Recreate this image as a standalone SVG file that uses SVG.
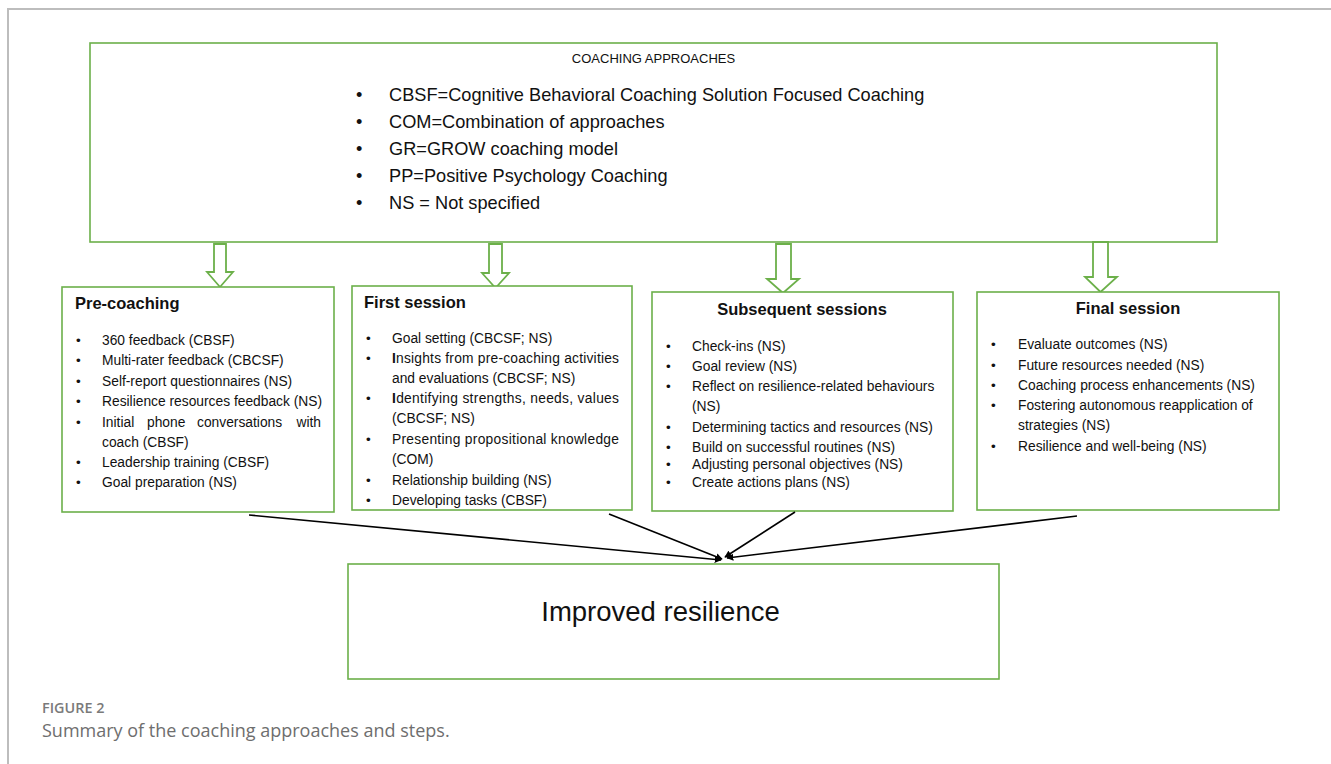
<svg xmlns="http://www.w3.org/2000/svg" width="1331" height="764" viewBox="0 0 1331 764">
  <style>
    .box { fill: #ffffff; stroke: #6cb04a; stroke-width: 1.6; }
    .blk { fill: #ffffff; stroke: #6cb04a; stroke-width: 1.8; stroke-linejoin: miter; }
    .frame { fill: none; stroke: #bdbdbd; stroke-width: 2; }
    .t { font-family: "Liberation Sans", Arial, sans-serif; fill: #111111; }
    .item { font-size: 13.8px; }
    .head { font-size: 16.5px; font-weight: bold; }
    .legend { font-size: 18.2px; }
    .bul { font-family: "Liberation Sans", Arial, sans-serif; font-size: 13.5px; fill: #111111; }
    .conn { stroke: #000000; stroke-width: 1.6; fill: none; marker-end: url(#tip); }
    .cap { font-family: "Open Sans", "Liberation Sans", sans-serif; }
  </style>
  <defs>
    <marker id="tip" viewBox="0 0 10 10" refX="9" refY="5" markerWidth="7" markerHeight="7" orient="auto" markerUnits="userSpaceOnUse">
      <path d="M0,0 L10,5 L0,10 z" fill="#000000"/>
    </marker>
    <clipPath id="clipFirst"><rect x="352" y="286" width="280" height="223"/></clipPath>
  </defs>

  <rect width="1331" height="764" fill="#ffffff"/>
  <!-- page frame -->
  <path class="frame" d="M8,764 L8,9 L1331,9"/>

  <!-- approaches legend -->
  <g id="approaches">
    <rect class="box" x="90" y="43" width="1127" height="199"/>
    <text class="t" x="653.5" y="63" font-size="13" text-anchor="middle">COACHING APPROACHES</text>
    <g class="t legend">
      <text x="356" y="101">•</text><text x="389" y="101">CBSF=Cognitive Behavioral Coaching Solution Focused Coaching</text>
      <text x="356" y="128">•</text><text x="389" y="128">COM=Combination of approaches</text>
      <text x="356" y="155">•</text><text x="389" y="155">GR=GROW coaching model</text>
      <text x="356" y="182">•</text><text x="389" y="182">PP=Positive Psychology Coaching</text>
      <text x="356" y="209">•</text><text x="389" y="209">NS = Not specified</text>
    </g>
  </g>

  <!-- hollow block arrows from legend to each stage -->
  <g id="block-arrows">
    <path class="blk" d="M214,244 L226,244 L226,272 L233,272 L220,287 L207,272 L214,272 Z"/>
    <path class="blk" d="M489,244 L502,244 L502,273 L509,273 L495.5,288 L482,273 L489,273 Z"/>
    <path class="blk" d="M776,244 L791,244 L791,279 L799,279 L783,293 L767,279 L776,279 Z"/>
    <path class="blk" d="M1093,242 L1108,242 L1108,277 L1117,277 L1100.5,292 L1085,277 L1093,277 Z"/>
  </g>

  <g id="pre-coaching">
    <rect class="box" x="62" y="287" width="272" height="225"/>
    <text class="t head" x="75" y="309">Pre-coaching</text>
    <g class="t item">
      <text class="bul" x="76" y="345">•</text><text x="102" y="345">360 feedback (CBSF)</text>
      <text class="bul" x="76" y="365">•</text><text x="102" y="365">Multi-rater feedback (CBCSF)</text>
      <text class="bul" x="76" y="386">•</text><text x="102" y="386">Self-report questionnaires (NS)</text>
      <text class="bul" x="76" y="406">•</text><text x="102" y="406">Resilience resources feedback (NS)</text>
      <text class="bul" x="76" y="427">•</text><text x="102" y="427">Initial</text><text x="147" y="427">phone</text><text x="197" y="427">conversations</text><text x="321" y="427" text-anchor="end">with</text>
      <text x="102" y="447">coach (CBSF)</text>
      <text class="bul" x="76" y="467">•</text><text x="102" y="467">Leadership training (CBSF)</text>
      <text class="bul" x="76" y="487">•</text><text x="102" y="487">Goal preparation (NS)</text>
    </g>
  </g>

  <g id="first-session">
    <rect class="box" x="352" y="286" width="280" height="224"/>
    <text class="t head" x="364" y="308">First session</text>
    <g class="t item" clip-path="url(#clipFirst)">
      <text class="bul" x="366" y="343">•</text><text x="392" y="343">Goal setting (CBCSF; NS)</text>
      <text class="bul" x="366" y="363">•</text><text x="392" y="363" textLength="227" lengthAdjust="spacing"><tspan font-weight="bold">I</tspan>nsights from pre-coaching activities</text>
      <text x="392" y="383">and evaluations (CBCSF; NS)</text>
      <text class="bul" x="366" y="403">•</text><text x="392" y="403" textLength="227" lengthAdjust="spacing"><tspan font-weight="bold">I</tspan>dentifying strengths, needs, values</text>
      <text x="392" y="423">(CBCSF; NS)</text>
      <text class="bul" x="366" y="444">•</text><text x="392" y="444" textLength="227" lengthAdjust="spacing">Presenting propositional knowledge</text>
      <text x="392" y="464">(COM)</text>
      <text class="bul" x="366" y="485">•</text><text x="392" y="485">Relationship building (NS)</text>
      <text class="bul" x="366" y="505">•</text><text x="392" y="505">Developing tasks (CBSF)</text>
    </g>
  </g>

  <g id="subsequent-sessions">
    <rect class="box" x="652" y="292" width="301" height="219"/>
    <text class="t head" x="802" y="315" text-anchor="middle">Subsequent sessions</text>
    <g class="t item">
      <text class="bul" x="666" y="351">•</text><text x="692" y="351">Check-ins (NS)</text>
      <text class="bul" x="666" y="371">•</text><text x="692" y="371">Goal review (NS)</text>
      <text class="bul" x="666" y="391">•</text><text x="692" y="391">Reflect on resilience-related behaviours</text>
      <text x="692" y="411">(NS)</text>
      <text class="bul" x="666" y="432">•</text><text x="692" y="432">Determining tactics and resources (NS)</text>
      <text class="bul" x="666" y="452">•</text><text x="692" y="452">Build on successful routines (NS)</text>
      <text class="bul" x="666" y="469">•</text><text x="692" y="469">Adjusting personal objectives (NS)</text>
      <text class="bul" x="666" y="487">•</text><text x="692" y="487">Create actions plans (NS)</text>
    </g>
  </g>

  <g id="final-session">
    <rect class="box" x="977" y="292" width="302" height="218"/>
    <text class="t head" x="1128" y="314" text-anchor="middle">Final session</text>
    <g class="t item">
      <text class="bul" x="991" y="349">•</text><text x="1018" y="349">Evaluate outcomes (NS)</text>
      <text class="bul" x="991" y="370">•</text><text x="1018" y="370">Future resources needed (NS)</text>
      <text class="bul" x="991" y="390">•</text><text x="1018" y="390">Coaching process enhancements (NS)</text>
      <text class="bul" x="991" y="410">•</text><text x="1018" y="410">Fostering autonomous reapplication of</text>
      <text x="1018" y="430">strategies (NS)</text>
      <text class="bul" x="991" y="451">•</text><text x="1018" y="451">Resilience and well-being (NS)</text>
    </g>
  </g>

  <g id="connectors">
    <line class="conn" x1="249" y1="515" x2="721" y2="560"/>
    <line class="conn" x1="609" y1="514" x2="722" y2="559"/>
    <line class="conn" x1="795" y1="512" x2="725" y2="557"/>
    <line class="conn" x1="1077" y1="516" x2="727" y2="558"/>
  </g>

  <g id="improved-resilience">
    <rect class="box" x="348" y="564" width="651" height="115"/>
    <text class="t" x="660.5" y="621" font-size="27.5" text-anchor="middle">Improved resilience</text>
  </g>

  <g id="caption">
    <text class="cap" x="42" y="713" font-size="14.4" font-weight="600" fill="#7a7a7a">FIGURE 2</text>
    <text class="cap" x="42" y="737" font-size="18" fill="#6e6e6e">Summary of the coaching approaches and steps.</text>
  </g>
</svg>
